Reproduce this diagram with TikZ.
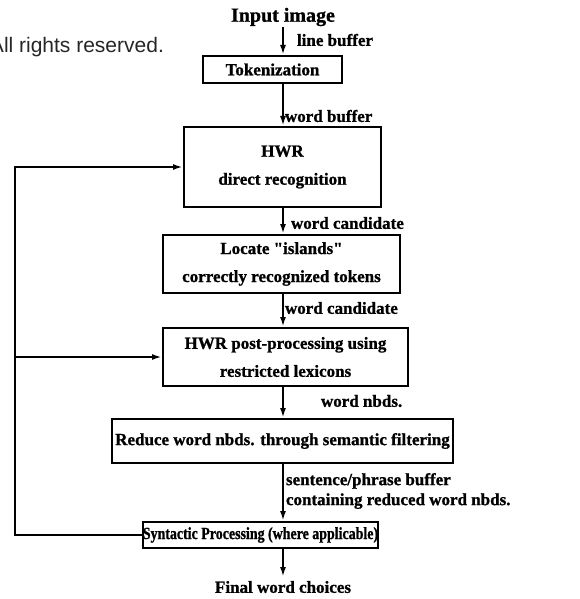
\documentclass[tikz,border=0pt]{standalone}
\usepackage{fontspec}
\setmainfont{Liberation Serif}[BoldFeatures={FakeBold=1}]
\newfontfamily\notefont{Liberation Sans}
\newfontfamily\narrowfont{Liberation Serif Bold}[FakeStretch=0.82, FakeBold=1]
\usetikzlibrary{arrows.meta}
\begin{document}
\begin{tikzpicture}
[
    x=1pt, y=-1pt,
    line width=2pt,
    box/.style={draw, inner sep=0pt, align=center,
        font=\fontsize{17}{28}\selectfont\bfseries},
    lbl/.style={inner sep=0pt, anchor=west, align=left,
        font=\fontsize{17}{20}\selectfont\bfseries},
    arr/.style={-{Latex[length=10pt,width=6pt]}},
]
\useasboundingbox (0,0) rectangle (580,599);
\node[anchor=west, inner sep=0pt, text=black!85,
    font=\notefont\fontsize{21}{23}\selectfont] (note) at (-11,47) {All rights reserved.};
\node[inner sep=0pt, font=\fontsize{20}{22}\selectfont\bfseries] (in) at (283,17) {Input image};
\node[box, minimum width=139pt, minimum height=27pt] (tok) at (272.5,69.5) {Tokenization};
\node[box, minimum width=197pt, minimum height=80pt] (hwr) at (282.5,167) {HWR\\direct recognition};
\node[box, minimum width=237pt, minimum height=58pt] (isl) at (281.5,264) {Locate \textquotedbl islands\textquotedbl\\correctly recognized tokens};
\node[box, minimum width=245pt, minimum height=58pt] (post) at (285.5,357) {HWR post-processing using\\restricted lexicons};
\node[box, minimum width=341pt, minimum height=44pt] (red) at (282.5,441) {Reduce word nbds. through semantic filtering};
\node[box, minimum width=235pt, minimum height=26pt,
    font=\narrowfont\fontsize{17}{20}\selectfont] (syn) at (260.5,535) {Syntactic Processing (where applicable)};
\node[inner sep=3pt, font=\fontsize{17}{20}\selectfont\bfseries] (out) at (283,587) {Final word choices};
% labels on the spine
\node[lbl] (lb) at (296,40) {line buffer};
\node[lbl] (wb) at (284,116) {word buffer};
\node[lbl] (wc1) at (290,223) {word candidate};
\node[lbl] (wc2) at (284,308) {word candidate};
\node[lbl] (wn) at (320,401) {word nbds.};
\node[lbl] (sp) at (285,491) {sentence/phrase buffer\\containing reduced word nbds.};
\coordinate (fb) at (15,0);
\draw[arr] (in.south) -- (in.south |- tok.north);
\draw[arr] (tok.south -| in) -- (hwr.north -| in);
\draw[arr] (hwr.south -| in) -- (isl.north -| in);
\draw[arr] (isl.south -| in) -- (post.north -| in);
\draw[arr] (post.south -| in) -- (red.north -| in);
\draw[arr] (red.south -| in) -- (syn.north -| in);
\draw[arr] (syn.south -| in) -- (out.north);
% feedback
\draw[arr] (syn.west) -| (fb |- hwr.west) -- (hwr.west);
\draw[arr] (fb |- post.west) -- (post.west);
\end{tikzpicture}
\end{document}
